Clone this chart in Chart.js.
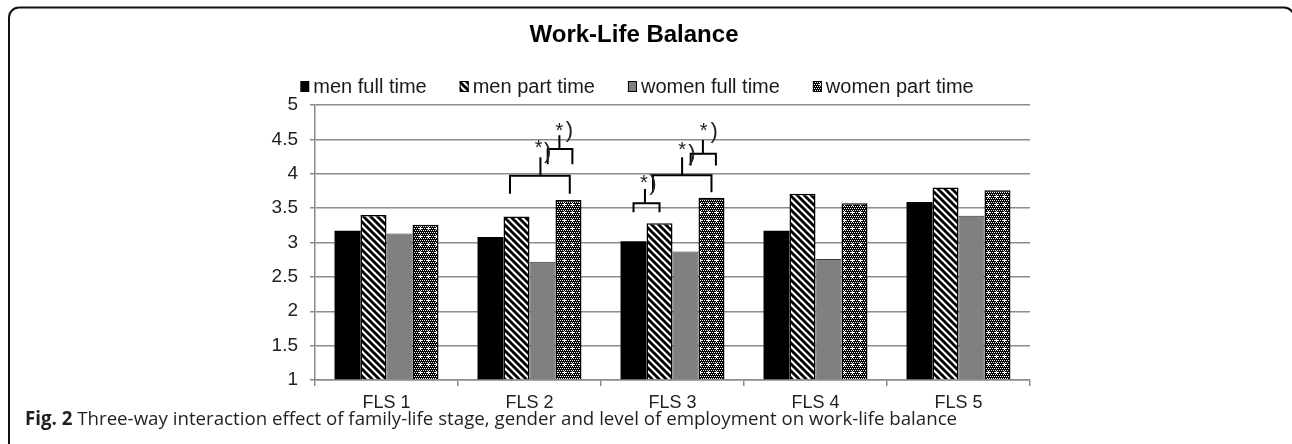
<!DOCTYPE html>
<html><head><meta charset="utf-8">
<script src="https://cdn.jsdelivr.net/npm/chart.js@4.4.0/dist/chart.umd.min.js"></script>
<style>html,body{margin:0;padding:0;background:#fff;}canvas{display:block;}</style>
</head><body>
<canvas id="c" width="1292" height="444"></canvas>
<script>
const categories = ['FLS 1','FLS 2','FLS 3','FLS 4','FLS 5'];
const seriesLabels = ['men full time','men part time','women full time','women part time'];
const menFullTime   = [3.17, 3.08, 3.02, 3.17, 3.59];
const menPartTime   = [3.40, 3.38, 3.28, 3.71, 3.80];
const womenFullTime = [3.13, 2.72, 2.87, 2.76, 3.39];
const womenPartTime = [3.26, 3.62, 3.65, 3.57, 3.76];
const yTicks = [1, 1.5, 2, 2.5, 3, 3.5, 4, 4.5, 5];
const titleText = 'Work-Life Balance';
const captionBold = 'Fig. 2';
const captionText = ' Three-way interaction effect of family-life stage, gender and level of employment on work-life balance';
// significance brackets (category index, bar positions 0..3, values on y scale)
const brackets = [
  {cat:1, from:0.75, to:3.05, bar:3.97, leg:3.71, stemAt:1.92, stemTop:4.24},
  {cat:1, from:2.2,  to:3.15, bar:4.36, leg:4.14, stemAt:2.65, stemTop:4.56},
  {cat:2, from:0,    to:1,    bar:3.57, leg:3.44, stemAt:0.44, stemTop:3.78},
  {cat:2, from:0.75, to:3.0,  bar:3.98, leg:3.73, stemAt:1.87, stemTop:4.24},
  {cat:2, from:2.2,  to:3.17, bar:4.29, leg:4.12, stemAt:2.67, stemTop:4.49}
];
const sigMarks = [
  {cat:1, starAt:1.85, starY:4.42, parenAt:2.2,  parenY:4.32},
  {cat:1, starAt:2.65, starY:4.68, parenAt:3.04, parenY:4.62},
  {cat:2, starAt:0.4,  starY:3.92, parenAt:0.75, parenY:3.85},
  {cat:2, starAt:1.87, starY:4.39, parenAt:2.25, parenY:4.29},
  {cat:2, starAt:2.7,  starY:4.68, parenAt:3.1,  parenY:4.61}
];

const canvas = document.getElementById('c');
const ctx = canvas.getContext('2d');

function stripePattern(){
  const s = 7, c = document.createElement('canvas'); c.width = c.height = s;
  const g = c.getContext('2d');
  g.fillStyle = '#fff'; g.fillRect(0,0,s,s);
  g.strokeStyle = '#000'; g.lineWidth = s/(2*Math.SQRT2) + 0.3;
  for (const o of [-s, 0, s]) { g.beginPath(); g.moveTo(o-2,-2); g.lineTo(o+s+2,s+2); g.stroke(); }
  return ctx.createPattern(c, 'repeat');
}
function dotPattern(){
  const s = 8, c = document.createElement('canvas'); c.width = c.height = s;
  const g = c.getContext('2d');
  g.fillStyle = '#000'; g.fillRect(0,0,s,s);
  g.fillStyle = '#fff';
  for (let y=0; y<s; y+=2) for (let x=0; x<s; x+=2) g.fillRect(x + ((y/2)%2), y, 1, 1);
  g.fillRect(3,4,3,1); g.fillRect(4,3,1,3);
  return ctx.createPattern(c, 'repeat');
}
const stripes = stripePattern();
const dots = dotPattern();

const FONT = "'Liberation Sans', Arial, sans-serif";

const framePlugin = {
  id: 'frame',
  beforeDraw(chart){
    const g = chart.ctx;
    g.save();
    g.fillStyle = '#fff'; g.fillRect(0,0,chart.width,chart.height);
    const L = 9, T = 7.5, R = 1294, r = 10;
    g.beginPath();
    g.moveTo(L, 470); g.lineTo(L, T + r);
    g.arcTo(L, T, L + r, T, r);
    g.lineTo(R - r, T);
    g.arcTo(R, T, R, T + r, r);
    g.lineTo(R, 470);
    g.strokeStyle = '#111'; g.lineWidth = 2; g.stroke();
    g.restore();
  },
  afterDraw(chart){
    const g = chart.ctx;
    g.save();
    // title
    g.fillStyle = '#000'; g.font = "bold 24px " + FONT; g.textAlign = 'center'; g.textBaseline = 'alphabetic';
    g.fillText(titleText, 634, 42);
    // legend
    g.font = "20px " + FONT; g.textAlign = 'left';
    const mw = 9, gap = 4, spacing = 33;
    const ds = chart.data.datasets;
    const widths = ds.map(d => mw + gap + g.measureText(d.label).width);
    const total = widths.reduce((a,b)=>a+b,0) + spacing*(ds.length-1);
    let x = 637 - total/2;
    ds.forEach((d,i) => {
      g.fillStyle = d.backgroundColor;
      g.fillRect(x, 81, mw, 11);
      if (d.borderWidth) { g.strokeStyle = '#000'; g.lineWidth = 1; g.strokeRect(x+0.5, 81.5, mw-1, 10); }
      g.fillStyle = '#1a1a1a';
      g.fillText(d.label, x + mw + gap, 93);
      x += widths[i] + spacing;
    });
    // caption
    g.fillStyle = '#231f20';
    g.font = "bold 18.7px 'Open Sans', sans-serif";
    g.fillText(captionBold, 25, 425);
    const bw = g.measureText(captionBold).width;
    g.font = "18.7px 'Open Sans', sans-serif";
    g.fillText(captionText, 25 + bw, 425);
    g.restore();
  },
  afterDatasetsDraw(chart){
    const g = chart.ctx, ys = chart.scales.y;
    const barX = (cat, pos) => {
      const a = chart.getDatasetMeta(0).data[cat].x, b = chart.getDatasetMeta(1).data[cat].x;
      return a + pos*(b - a);
    };
    g.save();
    g.strokeStyle = '#000'; g.lineWidth = 2;
    brackets.forEach(br => {
      const x1 = barX(br.cat, br.from), x2 = barX(br.cat, br.to), xs = barX(br.cat, br.stemAt);
      const yb = ys.getPixelForValue(br.bar), yl = ys.getPixelForValue(br.leg), yt = ys.getPixelForValue(br.stemTop);
      g.beginPath();
      g.moveTo(x1, yl); g.lineTo(x1, yb); g.lineTo(x2, yb); g.lineTo(x2, yl);
      g.moveTo(xs, yb); g.lineTo(xs, yt);
      g.stroke();
    });
    g.fillStyle = '#222'; g.textAlign = 'center'; g.textBaseline = 'middle';
    sigMarks.forEach(m => {
      g.font = "20px " + FONT;
      g.fillText('*', barX(m.cat, m.starAt), ys.getPixelForValue(m.starY) + 4);
      g.font = "22px " + FONT;
      g.fillText(')', barX(m.cat, m.parenAt), ys.getPixelForValue(m.parenY));
    });
    g.restore();
  }
};

new Chart(ctx, {
  type: 'bar',
  data: {
    labels: categories,
    datasets: [
      {label: seriesLabels[0], data: menFullTime,   backgroundColor: '#000', borderWidth: 0},
      {label: seriesLabels[1], data: menPartTime,   backgroundColor: stripes, borderColor: '#000', borderWidth: 1.5},
      {label: seriesLabels[2], data: womenFullTime, backgroundColor: '#808080', borderColor: '#3a3a3a', borderWidth: 1},
      {label: seriesLabels[3], data: womenPartTime, backgroundColor: dots, borderColor: '#000', borderWidth: 1.5}
    ]
  },
  options: {
    responsive: false, animation: false, devicePixelRatio: 1,
    base: 1,
    categoryPercentage: 0.727, barPercentage: 1.0,
    layout: {padding: {top: 105, left: 0, right: 262, bottom: 0}},
    plugins: {legend: {display: false}, title: {display: false}, tooltip: {enabled: false}},
    scales: {
      x: {
        grid: {display: true, drawOnChartArea: false, drawTicks: true, tickLength: 6, color: '#8c8c8c', lineWidth: 1.5, offset: true},
        border: {display: true, color: '#8c8c8c', width: 1.5},
        ticks: {font: {family: FONT, size: 18}, color: '#222', padding: 6},
        afterFit(s){ s.height = 64; }
      },
      y: {
        min: 1, max: 5,
        afterBuildTicks(s){ s.ticks = yTicks.map(v => ({value: v})); },
        grid: {color: '#8c8c8c', lineWidth: 1.5, tickLength: 5, drawTicks: true},
        border: {display: true, color: '#8c8c8c', width: 1.5},
        ticks: {font: {family: FONT, size: 19}, color: '#222', padding: 12, callback: v => String(v)},
        afterFit(s){ s.width = 315; }
      }
    }
  },
  plugins: [framePlugin]
});
</script>
</body></html>
